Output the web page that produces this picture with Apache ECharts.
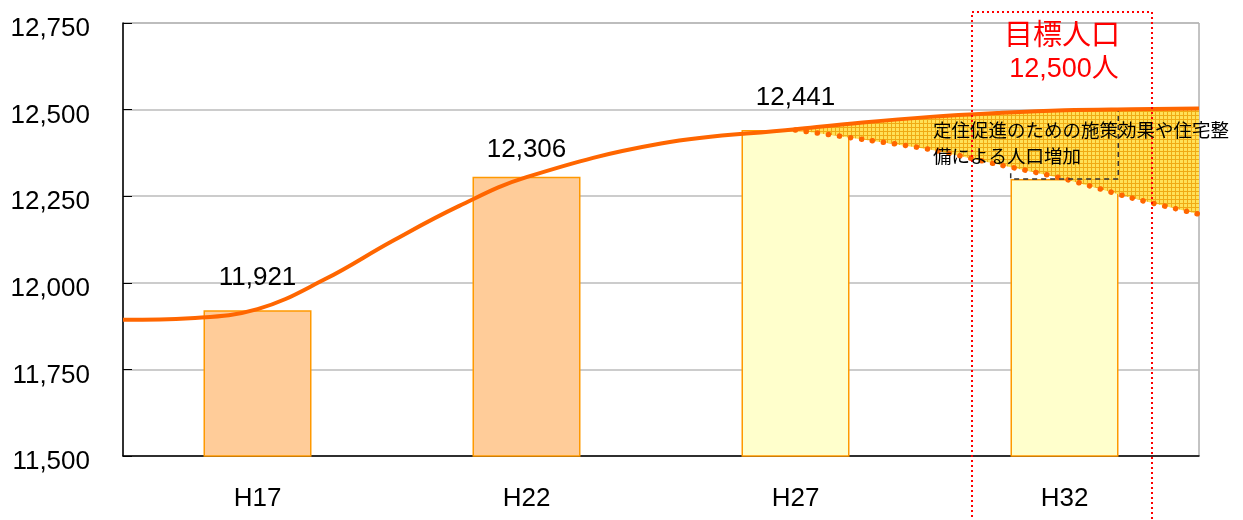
<!DOCTYPE html>
<html>
<head>
<meta charset="utf-8">
<script src="https://cdn.jsdelivr.net/npm/echarts@6/dist/echarts.min.js"></script>
<style>
html, body { margin: 0; padding: 0; background: #fff; }
#main { width: 1243px; height: 520px; }
</style>
</head>
<body>
<div id="main"></div>
<script>
// 人口推移
var categories = ['H17', 'H22', 'H27', 'H32'];
var popValues = [11921, 12306, 12441, 12300];
var popLabels = ['11,921', '12,306', '12,441', ''];
var yTicks = [11500, 11750, 12000, 12250, 12500, 12750];

// 目標人口の推移（x はカテゴリ単位）
var trendX = [0, 0.25, 0.5, 0.75, 1, 1.25, 1.5, 2, 2.5, 2.75, 3, 3.25, 3.5, 3.75, 4];
var trendY = [11893, 11898, 11924, 12010, 12120, 12222, 12305, 12402, 12443, 12463, 12479, 12490, 12498, 12501, 12503];

// 施策なしの推計（点線）
var baseX = [2.5, 2.75, 3, 3.25, 3.5, 3.75, 4];
var baseY = [12441, 12414, 12385, 12342, 12300, 12245, 12198];

// 増加分の補助線
var bracketX = [3.3, 3.3, 3.7, 3.7];
var bracketY = [12316, 12300, 12300, 12500];

var FONT = "'Liberation Sans', 'Noto Sans CJK JP', sans-serif";

function zip(xs, ys) {
    var out = [];
    for (var i = 0; i < xs.length; i++) {
        out.push([xs[i], ys[i]]);
    }
    return out;
}

function fmt(v) {
    return '{n|' + String(v).replace(/\B(?=(\d{3})+(?!\d))/g, ',') + '}';
}

// 網掛けパターン
var pat = document.createElement('canvas');
pat.width = 4;
pat.height = 4;
var pc = pat.getContext('2d');
pc.fillStyle = '#FFE158';
pc.fillRect(0, 0, 4, 4);
pc.fillStyle = '#F0AA14';
pc.fillRect(3, 0, 1, 4);
pc.fillRect(0, 3, 4, 1);

var upperY = baseX.map(function (x) {
    return trendY[trendX.indexOf(x)];
});

var barData = popValues.map(function (v, i) {
    return {
        value: v,
        itemStyle: {
            color: i < 2 ? '#FFCC99' : '#FFFFCC',
            borderColor: '#FF9900',
            borderWidth: 1.5
        },
        label: { offset: [0, i === 1 ? 5 : 0] }
    };
});

var myChart = echarts.init(document.getElementById('main'));
var option = {
    animation: false,
    textStyle: { fontFamily: FONT },
    grid: {
        left: 123, right: 44, top: 23, bottom: 64,
        show: true, borderColor: '#888888', borderWidth: 1
    },
    xAxis: [{
        type: 'category',
        data: categories,
        boundaryGap: true,
        axisLine: { lineStyle: { color: '#000', width: 1.5 } },
        axisTick: { inside: true, length: 9, alignWithLabel: false, lineStyle: { color: '#000' } },
        axisLabel: { color: '#000', fontSize: 26, margin: 30, fontFamily: FONT }
    }, {
        type: 'value',
        min: 0,
        max: 4,
        show: false
    }],
    yAxis: {
        type: 'value',
        min: yTicks[0],
        max: yTicks[yTicks.length - 1],
        interval: yTicks[1] - yTicks[0],
        axisLine: { show: true, lineStyle: { color: '#000', width: 1.5 } },
        axisTick: { show: true, inside: true, length: 9, lineStyle: { color: '#000' } },
        axisLabel: {
            color: '#000', fontSize: 26, margin: 33, fontFamily: FONT, formatter: fmt,
            rich: {
                n: { color: '#000', fontSize: 26, fontFamily: FONT, padding: [12, 0, 0, 0] }
            }
        },
        splitLine: { lineStyle: { color: '#BBBBBB', width: 1.5 } }
    },
    series: [{
        type: 'bar',
        data: barData,
        barWidth: 108,
        label: {
            show: true,
            position: 'top',
            distance: 19,
            color: '#000',
            fontSize: 26,
            fontFamily: FONT,
            formatter: function (p) { return popLabels[p.dataIndex]; }
        },
        z: 2
    }, {
        type: 'custom',
        xAxisIndex: 1,
        data: baseX.map(function (x, i) { return [x, baseY[i], upperY[i]]; }),
        renderItem: function (params, api) {
            if (params.dataIndex !== 0) return;
            var pts = [];
            for (var i = 0; i < baseX.length; i++) {
                pts.push(api.coord([baseX[i], upperY[i]]));
            }
            for (var j = baseX.length - 1; j >= 0; j--) {
                pts.push(api.coord([baseX[j], baseY[j]]));
            }
            return {
                type: 'polygon',
                shape: { points: pts },
                style: { fill: { image: pat, repeat: 'repeat' }, stroke: null }
            };
        },
        z: 3
    }, {
        type: 'line',
        xAxisIndex: 1,
        data: zip(baseX, baseY),
        smooth: 0.3,
        symbol: 'none',
        lineStyle: { color: '#FF6600', width: 5.5, type: [0.1, 11], cap: 'round' },
        z: 4
    }, {
        type: 'line',
        xAxisIndex: 1,
        data: zip(bracketX, bracketY),
        symbol: 'none',
        lineStyle: { color: '#333', width: 1.5, type: [5, 4] },
        z: 4
    }, {
        type: 'line',
        xAxisIndex: 1,
        data: zip(trendX, trendY),
        smooth: 0.4,
        symbol: 'none',
        lineStyle: { color: '#FF6600', width: 4 },
        z: 5
    }],
    graphic: [{
        type: 'rect',
        shape: { x: 972, y: 12, width: 180, height: 520 },
        style: { fill: null, stroke: '#FF0000', lineWidth: 2, lineDash: [2, 3] },
        z: 10
    }, {
        type: 'text',
        x: 1062, y: 34,
        style: {
            text: '目標人口', fill: '#FF0000', fontSize: 29, fontWeight: 'normal',
            fontFamily: "'Noto Sans CJK JP', sans-serif", align: 'center', verticalAlign: 'middle'
        },
        z: 10
    }, {
        type: 'text',
        x: 1064, y: 70,
        style: {
            text: '12,500人', fill: '#FF0000', fontSize: 27,
            fontFamily: FONT, align: 'center', verticalAlign: 'middle'
        },
        z: 10
    }, {
        type: 'text',
        x: 933, y: 143,
        style: {
            text: '定住促進のための施策効果や住宅整\n備による人口増加', fill: '#000', fontSize: 18.5,
            lineHeight: 26, fontFamily: "'Noto Sans CJK JP', sans-serif", align: 'left', verticalAlign: 'middle'
        },
        z: 10
    }]
};
myChart.setOption(option);
</script>
</body>
</html>
